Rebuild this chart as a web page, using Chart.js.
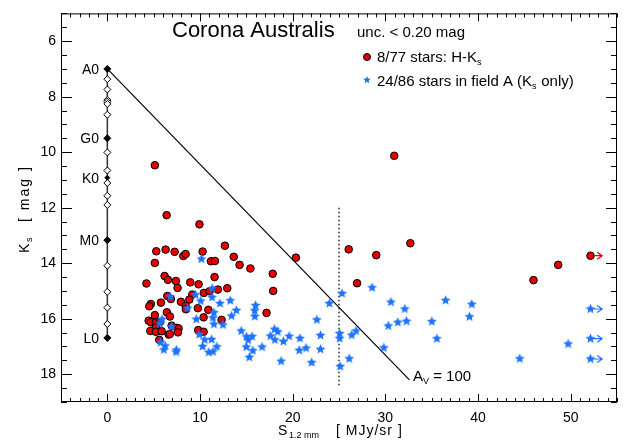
<!DOCTYPE html>
<html>
<head>
<meta charset="utf-8">
<script src="https://cdn.jsdelivr.net/npm/chart.js@4"></script>
<style>
  html, body { margin: 0; padding: 0; background: #fff; }
  #wrap { width: 624px; height: 447px; position: relative; }
</style>
</head>
<body>
<div id="wrap"><canvas id="plot"></canvas></div>
<script>
var FONT = '"Liberation Sans", Arial, Helvetica, sans-serif';
var RED = 'rgb(230,0,0)';
var BLUE = 'rgb(30,115,255)';

// axis ticks
var xTicks = [0, 10, 20, 30, 40, 50];
var yTicks = [6, 8, 10, 12, 14, 16, 18];

// spectral sequence (x = 0)
var spY = [7.0, 7.37, 7.74, 8.12, 8.18, 8.26, 8.65, 9.5, 10.01, 10.66, 10.92, 11.11, 11.57, 11.9, 13.17, 14.09, 15.03, 15.6, 16.19, 16.69];
var spFilled = [1, 0, 0, 0, 0, 0, 0, 1, 0, 0, 2, 0, 0, 0, 1, 0, 0, 0, 0, 1];
var spLabels = ['A0', 'G0', 'K0', 'M0', 'L0'];
var spLabelY = [7.0, 9.5, 10.92, 13.17, 16.69];

// extinction vector A_V = 100 and dotted cut
var avX = [0, 32.6];
var avY = [7.0, 18.2];
var cutX = [25, 25];
var cutY = [12.0, 18.47];

// H-Ks stars (red circles)
var redX = [5.13, 30.96, 6.4, 9.94, 5.28, 6.29, 7.26, 8.2, 8.45, 10.28, 12.69, 13.64, 5.13, 11.18, 11.61, 14.27, 15.44, 17.85, 17.9, 17.18,
  20.35, 26.05, 29.02, 32.7, 26.95, 45.99, 48.65, 52.14, 6.18, 6.54, 7.4, 7.58, 4.22, 8.95, 9.85, 11.57, 11.93, 12.94, 10.42, 11.04,
  6.47, 6.86, 9.17, 8.85, 7.94, 5.78, 4.7, 4.53, 8.45, 8.48, 9.77, 10.9, 6.43, 6.75, 5.13, 10.39, 12.33, 4.46, 4.7, 5.24,
  5.67, 6.94, 7.51, 7.69, 5.24, 4.64, 5.24, 5.86, 6.61, 6.75, 7.62, 9.81, 10.39, 5.6];
var redY = [10.47, 10.13, 12.27, 12.6, 13.57, 13.51, 13.59, 13.74, 13.67, 13.58, 13.37, 13.77, 13.99, 13.93, 13.92, 14.06, 14.19, 14.38, 15.0, 15.79,
  13.8, 13.5, 13.71, 13.28, 14.72, 14.61, 14.06, 13.73, 14.46, 14.6, 14.64, 14.89, 14.73, 14.69, 14.76, 14.5, 14.95, 14.9, 15.07, 15.01,
  15.18, 15.29, 15.13, 15.31, 15.39, 15.42, 15.47, 15.55, 15.54, 15.66, 15.62, 15.68, 15.77, 15.92, 15.87, 15.95, 16.04, 16.07, 16.13, 16.13,
  16.12, 16.25, 16.33, 16.35, 16.31, 16.44, 16.47, 16.45, 16.57, 16.55, 16.49, 16.41, 16.47, 16.76];

// field A stars, Ks only (blue stars)
var blueX = [10.15, 6.78, 9.52, 10.08, 11.31, 11.3, 12.15, 13.27, 13.92, 8.66, 11.5, 11.4, 9.6, 5.9, 5.66, 6.92, 11.5, 12.47, 13.4, 9.92,
  10.5, 11.25, 5.75, 6.25, 6.1, 7.45, 7.42, 10.28, 10.95, 11.4, 11.82, 14.45, 15.02, 15.2, 15.62, 15.0, 15.7, 15.33, 16.0, 15.9,
  15.92, 16.7, 17.6, 18.05, 18.4, 18.08, 19.0, 19.62, 18.75, 20.78, 20.71, 21.44, 22.05, 22.61, 23.0, 23.0, 23.96, 25.07, 25.07, 25.13,
  25.33, 26.1, 26.37, 26.84, 28.57, 29.84, 30.32, 30.6, 31.35, 32.1, 32.29, 35.02, 35.56, 36.5, 39.08, 39.33, 44.51, 49.73, 52.14, 52.14, 52.14];
var blueY = [13.85, 15.21, 15.14, 15.36, 14.91, 15.23, 15.45, 15.35, 15.7, 15.62, 15.78, 15.97, 16.02, 16.02, 16.18, 16.29, 16.2, 16.22, 15.9, 16.57,
  16.76, 16.75, 16.86, 16.98, 17.12, 17.13, 17.2, 17.0, 17.21, 17.19, 17.01, 16.44, 16.65, 16.77, 16.64, 17.02, 17.15, 17.39, 15.52, 15.71,
  15.92, 17.02, 16.62, 16.38, 16.47, 16.76, 16.82, 16.63, 17.53, 16.71, 17.14, 17.06, 17.58, 16.04, 16.6, 17.1, 15.45, 16.53, 16.71, 17.72,
  15.09, 17.44, 16.59, 16.44, 14.88, 17.05, 16.26, 15.4, 16.13, 15.65, 16.09, 16.1, 16.72, 15.34, 15.93, 15.48, 17.44, 16.91, 15.65, 16.72, 17.45];

// lower limits in S (arrows to the right)
var limitX = 52.14;
var limitEnd = 53.4;
var redLimitY = [13.73];
var blueLimitY = [15.65, 16.72, 17.45];

function pts(xs, ys) {
  return xs.map(function (x, i) { return { x: x, y: ys[i] }; });
}

function makeStar(r, color) {
  var s = Math.ceil(2 * r + 2);
  var c = document.createElement('canvas');
  c.width = s; c.height = s;
  var g = c.getContext('2d');
  g.fillStyle = color;
  g.beginPath();
  for (var i = 0; i < 10; i++) {
    var rad = (i % 2) ? r * 0.45 : r;
    var a = -Math.PI / 2 + i * Math.PI / 5;
    g.lineTo(s / 2 + rad * Math.cos(a), s / 2 + rad * Math.sin(a));
  }
  g.closePath();
  g.fill();
  return c;
}
var starImg = makeStar(5.2, BLUE);
var starSmall = makeStar(4, BLUE);

var spData = spY.map(function (y) { return { x: 0, y: y }; });

function arrow(ctx, x0, x1, y, color) {
  ctx.save();
  ctx.strokeStyle = color;
  ctx.lineWidth = 1.2;
  ctx.beginPath();
  ctx.moveTo(x0, y); ctx.lineTo(x1, y);
  ctx.moveTo(x1 - 5, y - 3.5); ctx.lineTo(x1, y); ctx.lineTo(x1 - 5, y + 3.5);
  ctx.stroke();
  ctx.restore();
}

var decor = {
  id: 'decor',
  afterDraw: function (chart) {
    var ctx = chart.ctx;
    var xs = chart.scales.x, ys = chart.scales.y;
    var ca = chart.chartArea;
    ctx.save();

    // frame and inward ticks on all sides
    ctx.strokeStyle = '#000';
    ctx.lineWidth = 1;
    ctx.strokeRect(ca.left + 0.5, ca.top + 0.5, ca.right - ca.left - 1, ca.bottom - ca.top - 1);
    ctx.beginPath();
    for (var v = -5; v <= 55; v++) {
      var px = Math.round(xs.getPixelForValue(v)) + 0.5;
      var len = xTicks.indexOf(v) >= 0 ? 8 : 4;
      ctx.moveTo(px, ca.bottom); ctx.lineTo(px, ca.bottom - len);
      ctx.moveTo(px, ca.top); ctx.lineTo(px, ca.top + len);
    }
    for (var w = 5; w <= 19; w += 0.5) {
      var py = Math.round(ys.getPixelForValue(w)) + 0.5;
      var ln = yTicks.indexOf(w) >= 0 ? 11 : 6;
      ctx.moveTo(ca.left, py); ctx.lineTo(ca.left + ln, py);
      ctx.moveTo(ca.right, py); ctx.lineTo(ca.right - ln, py);
    }
    ctx.stroke();

    // lower limit arrows
    redLimitY.forEach(function (y) {
      arrow(ctx, xs.getPixelForValue(limitX) + 4, xs.getPixelForValue(limitEnd), ys.getPixelForValue(y), RED);
    });
    blueLimitY.forEach(function (y) {
      arrow(ctx, xs.getPixelForValue(limitX), xs.getPixelForValue(limitEnd), ys.getPixelForValue(y), BLUE);
    });

    ctx.fillStyle = '#000';
    // spectral type labels
    ctx.font = '14px ' + FONT;
    ctx.textAlign = 'right';
    ctx.textBaseline = 'middle';
    spLabels.forEach(function (t, i) {
      ctx.fillText(t, 99, ys.getPixelForValue(spLabelY[i]) + 1);
    });

    ctx.textAlign = 'left';
    ctx.textBaseline = 'alphabetic';
    // A_V label
    var ax = 413, ay = 381;
    ctx.font = '15px ' + FONT;
    ctx.fillText('A', ax, ay);
    ctx.font = '9px ' + FONT;
    ctx.fillText('V', ax + 10, ay + 3);
    ctx.font = '15px ' + FONT;
    ctx.fillText(' = 100', ax + 16, ay);

    // titles
    ctx.font = '22px ' + FONT;
    ctx.fillText('Corona Australis', 172, 37);
    ctx.font = '15px ' + FONT;
    ctx.fillText('unc. < 0.20 mag', 357, 37);

    // legend
    ctx.beginPath();
    ctx.arc(367, 57, 3.5, 0, Math.PI * 2);
    ctx.fillStyle = RED; ctx.fill();
    ctx.strokeStyle = '#000'; ctx.stroke();
    ctx.fillStyle = '#000';
    ctx.font = '15px ' + FONT;
    var t1 = '8/77 stars: H-K';
    ctx.fillText(t1, 377, 62);
    var w1 = ctx.measureText(t1).width;
    ctx.font = '9px ' + FONT;
    ctx.fillText('s', 377 + w1, 65);

    ctx.drawImage(starSmall, 367 - starSmall.width / 2, 80 - starSmall.height / 2);
    ctx.font = '15px ' + FONT;
    var t2 = '24/86 stars in field A (K';
    ctx.fillText(t2, 377, 86);
    var w2 = ctx.measureText(t2).width;
    ctx.font = '9px ' + FONT;
    ctx.fillText('s', 377 + w2, 89);
    ctx.font = '15px ' + FONT;
    ctx.fillText(' only)', 377 + w2 + 5, 86);

    // x axis title
    ctx.font = '14px ' + FONT;
    ctx.fillText('S', 278, 435);
    ctx.font = '9px ' + FONT;
    ctx.fillText('1.2 mm', 289, 438);
    ctx.font = '14px ' + FONT;
    ctx.letterSpacing = '1px';
    ctx.fillText('[ MJy/sr ]', 336, 435);

    // y axis title
    ctx.translate(29, 253);
    ctx.rotate(-Math.PI / 2);
    ctx.letterSpacing = '0px';
    ctx.font = '14px ' + FONT;
    ctx.fillText('K', 0, 0);
    ctx.font = '9px ' + FONT;
    ctx.fillText('s', 11, 3);
    ctx.font = '14px ' + FONT;
    ctx.letterSpacing = '2px';
    ctx.fillText('[ mag ]', 31, 0);
    ctx.restore();
  }
};

var ctxPlot = document.getElementById('plot');
var graph = new Chart(ctxPlot, {
  type: 'scatter',
  data: {
    datasets: [
      {
        label: 'sequence',
        data: spData,
        showLine: true,
        borderColor: '#333',
        borderWidth: 1.5,
        pointStyle: 'rectRot',
        pointRadius: spFilled.map(function (f) { return f === 2 ? 2.5 : 3.5; }),
        pointBackgroundColor: spFilled.map(function (f) { return f ? '#000' : '#fff'; }),
        pointBorderColor: '#000',
        pointBorderWidth: 1,
        order: 4
      },
      {
        label: 'av',
        data: pts(avX, avY),
        showLine: true,
        borderColor: '#000',
        borderWidth: 1.2,
        pointRadius: 0,
        order: 5
      },
      {
        label: 'cut',
        data: pts(cutX, cutY),
        showLine: true,
        borderColor: '#000',
        borderWidth: 1.3,
        borderDash: [1.5, 2.5],
        pointRadius: 0,
        order: 6
      },
      {
        label: 'H-Ks',
        data: pts(redX, redY),
        pointStyle: 'circle',
        pointRadius: 3.8,
        pointBackgroundColor: RED,
        pointBorderColor: '#000',
        pointBorderWidth: 1,
        order: 3
      },
      {
        label: 'Ks only',
        data: pts(blueX, blueY),
        pointStyle: starImg,
        pointRadius: 5,
        order: 2
      }
    ]
  },
  options: {
    responsive: true,
    maintainAspectRatio: false,
    animation: false,
    events: [],
    layout: { padding: { top: 7, right: 7, left: 0, bottom: 0 } },
    plugins: { legend: { display: false }, tooltip: { enabled: false }, title: { display: false } },
    scales: {
      x: {
        type: 'linear', min: -5, max: 55,
        afterBuildTicks: function (s) { s.ticks = xTicks.map(function (v) { return { value: v }; }); },
        afterFit: function (s) { s.height = 45; },
        grid: { display: false, drawTicks: false },
        border: { display: false },
        ticks: { color: '#000', font: { family: FONT, size: 14 }, padding: 8, maxRotation: 0, autoSkip: false }
      },
      y: {
        type: 'linear', min: 5, max: 19, reverse: true,
        afterBuildTicks: function (s) { s.ticks = yTicks.map(function (v) { return { value: v }; }); },
        afterFit: function (s) { s.width = 61; },
        grid: { display: false, drawTicks: false },
        border: { display: false },
        ticks: { color: '#000', font: { family: FONT, size: 14 }, padding: 5, autoSkip: false }
      }
    }
  },
  plugins: [decor]
});
</script>
</body>
</html>
